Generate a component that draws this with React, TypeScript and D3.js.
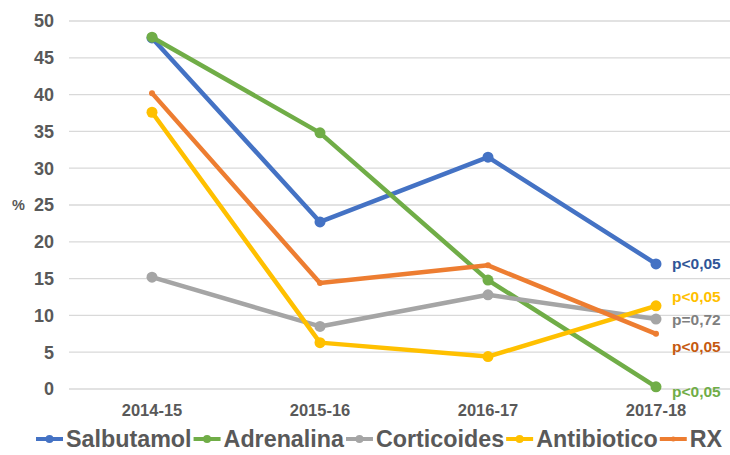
import React, { useEffect, useRef } from "react";
import * as d3 from "d3";

const categories = ["2014-15", "2015-16", "2016-17", "2017-18"];
const seriesNames = ["Salbutamol", "Adrenalina", "Corticoides", "Antibiotico", "RX"];
const salbutamol = [47.7, 22.7, 31.5, 17.0];
const adrenalina = [47.8, 34.8, 14.8, 0.3];
const corticoides = [15.2, 8.5, 12.8, 9.5];
const antibiotico = [37.6, 6.3, 4.4, 11.3];
const rx = [40.2, 14.4, 16.8, 7.5];
const seriesValues = [salbutamol, adrenalina, corticoides, antibiotico, rx];
const pLabels = ["p<0,05", "p<0,05", "p=0,72", "p<0,05", "p<0,05"];
const yTicks = [0, 5, 10, 15, 20, 25, 30, 35, 40, 45, 50];

const colors = ["#4472C4", "#70AD47", "#A5A5A5", "#FFC000", "#ED7D31"];
const labelColors = ["#2F5597", "#70AD47", "#7F7F7F", "#FFC000", "#C55A11"];
const labelDy = [0, 5, 0, -9, 13];
const markerR = [5.5, 5.5, 5.5, 5.5, 3];

const W = 730;
const H = 455;
const FONT = "'Liberation Sans', Arial, sans-serif";

export default function App() {
  const ref = useRef<SVGSVGElement | null>(null);

  useEffect(() => {
    const svg = d3.select(ref.current);
    svg.selectAll("*").remove();

    const x = d3.scaleBand<string>().domain(categories).range([68, 740]).padding(0);
    const cx = (c: string) => (x(c) as number) + x.bandwidth() / 2;
    const y = d3.scaleLinear().domain([0, 50]).range([389, 21]);

    // gridlines
    svg
      .append("g")
      .selectAll("line")
      .data(yTicks)
      .join("line")
      .attr("x1", 69)
      .attr("x2", 730)
      .attr("y1", (d) => y(d))
      .attr("y2", (d) => y(d))
      .attr("stroke", "#D9D9D9")
      .attr("stroke-width", 1.3);

    // y tick labels
    svg
      .append("g")
      .selectAll("text")
      .data(yTicks)
      .join("text")
      .attr("x", 54)
      .attr("y", (d) => y(d))
      .attr("dy", "0.36em")
      .attr("text-anchor", "end")
      .attr("font-family", FONT)
      .attr("font-weight", "bold")
      .attr("font-size", 18)
      .attr("fill", "#595959")
      .text((d) => String(d));

    svg
      .append("text")
      .attr("x", 12)
      .attr("y", y(25))
      .attr("dy", "0.36em")
      .attr("font-family", FONT)
      .attr("font-weight", "bold")
      .attr("font-size", 14.5)
      .attr("fill", "#595959")
      .text("%");

    // x tick labels
    svg
      .append("g")
      .selectAll("text")
      .data(categories)
      .join("text")
      .attr("x", (d) => cx(d))
      .attr("y", 416)
      .attr("text-anchor", "middle")
      .attr("font-family", FONT)
      .attr("font-weight", "bold")
      .attr("font-size", 16.5)
      .attr("fill", "#595959")
      .text((d) => d);

    const line = d3
      .line<number>()
      .x((_, i) => cx(categories[i]))
      .y((d) => y(d));

    seriesValues.forEach((vals, si) => {
      const g = svg.append("g");
      g.append("path")
        .attr("d", line(vals) as string)
        .attr("fill", "none")
        .attr("stroke", colors[si])
        .attr("stroke-width", 4.5)
        .attr("stroke-linejoin", "round")
        .attr("stroke-linecap", "round");
      g.selectAll("circle")
        .data(vals)
        .join("circle")
        .attr("cx", (_, i) => cx(categories[i]))
        .attr("cy", (d) => y(d))
        .attr("r", markerR[si])
        .attr("fill", colors[si]);
      const last = vals[vals.length - 1];
      g.append("text")
        .attr("x", cx(categories[categories.length - 1]) + 16)
        .attr("y", y(last) + labelDy[si])
        .attr("dy", "0.36em")
        .attr("font-family", FONT)
        .attr("font-weight", "bold")
        .attr("font-size", 15.5)
        .attr("fill", labelColors[si])
        .text(pLabels[si]);
    });

    // legend
    const legend = svg.append("g");
    let lx = 36;
    const ly = 439;
    seriesNames.forEach((name, si) => {
      const mw = 27;
      legend
        .append("line")
        .attr("x1", lx)
        .attr("x2", lx + mw)
        .attr("y1", ly)
        .attr("y2", ly)
        .attr("stroke", colors[si])
        .attr("stroke-width", 4);
      legend
        .append("circle")
        .attr("cx", lx + mw / 2)
        .attr("cy", ly)
        .attr("r", si === 4 ? 2.5 : 4)
        .attr("fill", colors[si]);
      const t = legend
        .append("text")
        .attr("x", lx + mw + 3)
        .attr("y", ly)
        .attr("dy", "0.36em")
        .attr("font-family", FONT)
        .attr("font-weight", "bold")
        .attr("font-size", 23.3)
        .attr("fill", "#595959")
        .text(name);
      const w = (t.node() as SVGTextElement).getComputedTextLength();
      lx += mw + 3 + w + 2;
    });
  }, []);

  return (
    <svg
      ref={ref}
      width={W}
      height={H}
      style={{ position: "absolute", left: 0, top: 0, background: "#fff" }}
    />
  );
}
